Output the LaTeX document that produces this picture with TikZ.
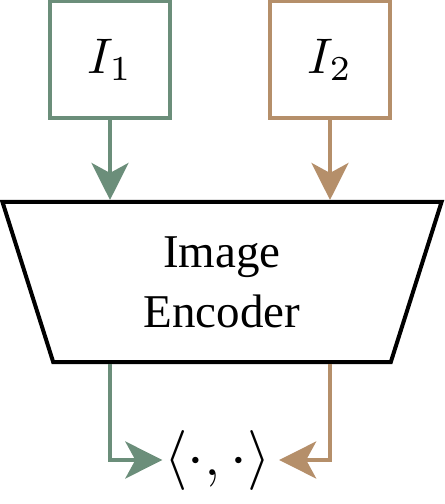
\documentclass[tikz,border=0pt]{standalone}
\usepackage[no-math]{fontspec}
\setmainfont{Liberation Serif}
\usetikzlibrary{shapes.geometric}
\usetikzlibrary{arrows.meta}

\definecolor{imgone}{RGB}{107,142,122}
\definecolor{imgtwo}{RGB}{181,143,106}

\begin{document}
\begin{tikzpicture}[x=0.2pt,y=-0.2pt,line width=0.8pt,
	input/.style={draw=#1,rectangle,minimum width=24pt,minimum height=23.4pt},
	flow/.style={#1,-{Stealth[length=7.4pt,width=7.4pt,inset=2pt]}}]
\useasboundingbox (0,0) rectangle (444,504);
\node[input=imgone] (I1) at (110,60) {$I_1$};
\node[input=imgtwo] (I2) at (330,60) {$I_2$};
\node[draw,trapezium,shape border rotate=180,trapezium angle=77.1,
	trapezium stretches=true,minimum width=88pt,minimum height=32pt,
	align=center,font=\fontsize{9.4}{12}\selectfont] (enc) at (222,282) {Image\\Encoder};
\node[inner sep=0pt,font=\fontsize{11.5}{14}\selectfont] (ip) at (217.5,460) {$\langle\cdot,\cdot\rangle$};
%\draw[red] (enc.north) -- (enc.south);
\draw[flow=imgone] (I1) -- (I1 |- enc.north);
\draw[flow=imgtwo] (I2) -- (I2 |- enc.north);
\draw[flow=imgone] (I1 |- enc.south) |- (ip.west);
\draw[flow=imgtwo,shorten >=1.3pt] (I2 |- enc.south) |- (ip.east);
\end{tikzpicture}
\end{document}
